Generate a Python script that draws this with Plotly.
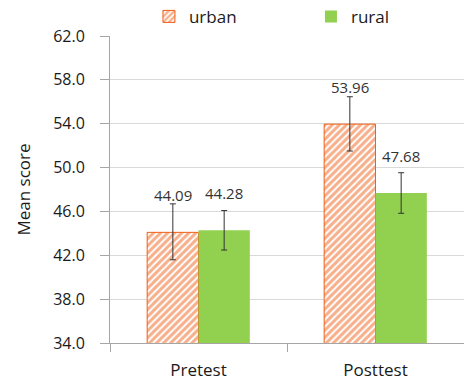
import plotly.graph_objects as go

categories = ["Pretest", "Posttest"]
urban = [44.09, 53.96]
rural = [44.28, 47.68]
urban_err_plus = [2.6, 2.5]
urban_err_minus = [2.5, 2.45]
rural_err_plus = [1.8, 1.85]
rural_err_minus = [1.8, 1.85]
labels_urban = ["44.09", "53.96"]
labels_rural = ["44.28", "47.68"]
y_ticks = [34, 38, 42, 46, 50, 54, 58, 62]

FONT = "Open Sans"
ORANGE = "#EF5F17"
GREEN = "#92D050"
TXT = "#1a1a1a"

fig = go.Figure()
fig.add_trace(go.Bar(
    name="urban", x=categories, y=urban,
    marker=dict(color="white", line=dict(color=ORANGE, width=1),
                pattern=dict(shape="/", fgcolor=ORANGE, bgcolor="white", size=5, solidity=0.6)),
    error_y=dict(type="data", array=urban_err_plus, arrayminus=urban_err_minus,
                 color="#333333", thickness=1, width=3),
))
fig.add_trace(go.Bar(
    name="rural", x=categories, y=rural,
    marker=dict(color=GREEN, line=dict(width=0)),
    error_y=dict(type="data", array=rural_err_plus, arrayminus=rural_err_minus,
                 color="#333333", thickness=1, width=3),
))

for vals, labs, off in [(urban, labels_urban, -0.145), (rural, labels_rural, 0.145)]:
    for i, (v, t) in enumerate(zip(vals, labs)):
        fig.add_annotation(x=i + off, y=v + 3.4, text=t, showarrow=False,
                           xref="x", yref="y", font=dict(family=FONT, size=15, color="#333333"),
                           yanchor="middle")

fig.update_layout(
    width=464, height=383,
    margin=dict(l=110, r=0, t=36, b=40, autoexpand=False),
    paper_bgcolor="white", plot_bgcolor="white",
    barmode="group", bargap=0.42, bargroupgap=0,
    font=dict(family=FONT, size=14, color=TXT),
    showlegend=True,
    legend=dict(orientation="h", xref="container", yref="container",
                x=0.321, y=0.956, xanchor="left", yanchor="middle",
                font=dict(family=FONT, size=17, color=TXT), entrywidth=117,
                itemwidth=30, bgcolor="rgba(0,0,0,0)"),
    xaxis=dict(showline=True, linecolor="#A6A6A6", ticks="outside", tickson="boundaries",
               tickcolor="#A6A6A6", ticklen=8, ticklabelstandoff=12, automargin=False,
               tickfont=dict(family=FONT, size=17, color=TXT)),
    yaxis=dict(range=[34, 62], tickvals=y_ticks, tickformat=".1f", showgrid=True,
               gridcolor="#D9D9D9", showline=True, linecolor="#A6A6A6", ticks="outside",
               tickcolor="#A6A6A6", ticklen=9, zeroline=False, ticklabelstandoff=12,
               automargin=False,
               tickfont=dict(family=FONT, size=16, color=TXT),
               title=dict(text="Mean score", font=dict(family=FONT, size=17, color=TXT), standoff=18)),
)
fig.write_html("out.html", config={"displayModeBar": False},
               post_script="document.body.style.margin='0';")
